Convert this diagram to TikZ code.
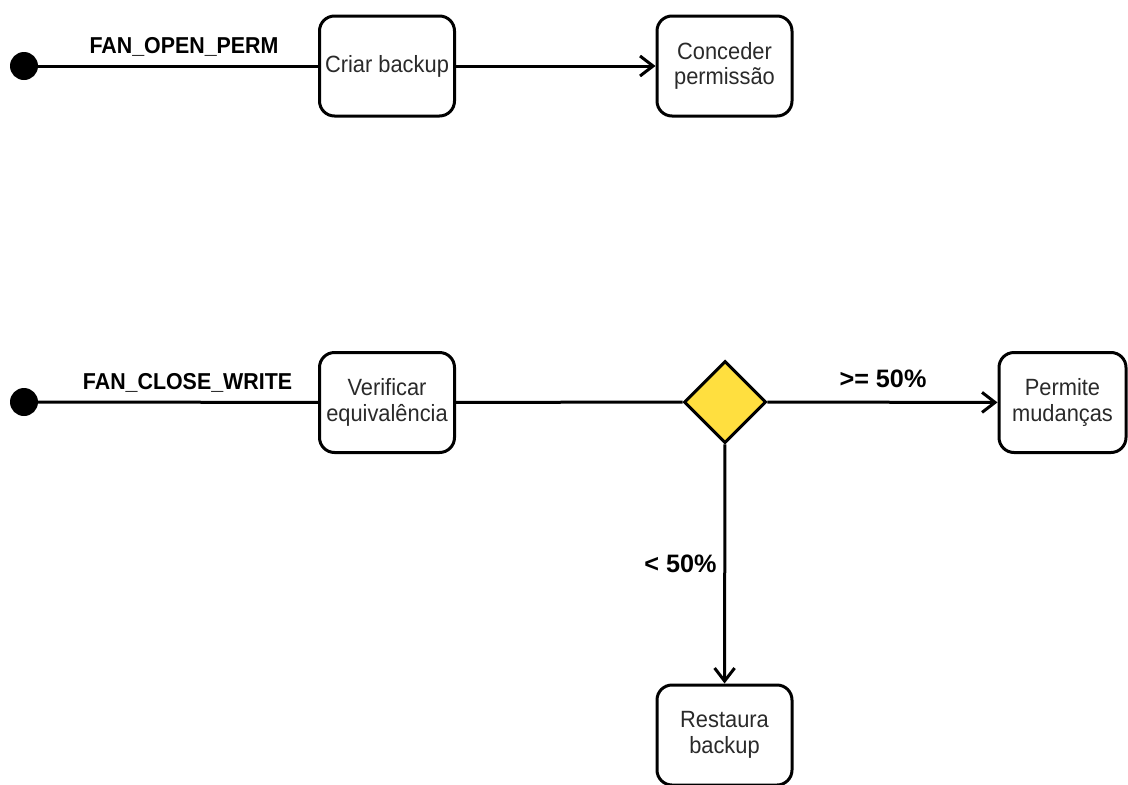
\documentclass[tikz,border=0pt]{standalone}
\usepackage{fontspec}
\setmainfont[FakeStretch=0.93]{Liberation Sans}
\newfontfamily\widesans{Liberation Sans}
\usetikzlibrary{shapes.geometric,arrows.meta}
\definecolor{dyellow}{HTML}{FFDF3F}
\definecolor{btext}{HTML}{2A2A2A}
\tikzset{
  x=1pt, y=-1pt,
  statebox/.style={draw=black, line width=3pt, rounded corners=15pt, minimum width=135pt, minimum height=100pt, align=center, inner sep=2pt, text=btext, font=\fontsize{23.5}{25.5}\selectfont},
  startdot/.style={circle, fill=black, draw=none, minimum size=28pt, inner sep=0pt},
  decision/.style={diamond, aspect=1, draw=black, line width=3pt, fill=dyellow, minimum width=82pt, minimum height=82pt, inner sep=0pt},
  lbl/.style={font=\fontsize{23}{25}\selectfont\bfseries, text=black, inner sep=0pt},
  pctlbl/.style={font=\widesans\fontsize{25.2}{27}\selectfont\bfseries, text=black, inner sep=0pt},
  flow/.style={line width=3pt, -{Straight Barb[length=13pt,width=20pt,line width=3pt]}},
  plain/.style={line width=3pt}
}
\begin{document}
\begin{tikzpicture}
\useasboundingbox (0,0) rectangle (1128,785);
% row 1
\node[startdot] (s1) at (24,66) {};
\node[statebox] (criar) at (387,66) {Criar backup};
\node[statebox] (conceder) at (724.5,66) {Conceder\\permissão};
\draw[plain] (s1) -- (criar);
\draw[flow] (criar) -- (conceder);
\node[lbl] (l1) at (184,47) {FAN\_OPEN\_PERM};
% row 2
\node[startdot] (s2) at (24,402) {};
\node[statebox] (verif) at (387,402.5) {Verificar\\equivalência};
\node[decision] (dec) at (725,402) {};
\node[statebox, minimum width=127pt] (permite) at (1062.5,402.5) {Permite\\mudanças};
\node[statebox] (restaura) at (724.5,735) {Restaura\\backup};
\draw[plain] (s2) -- (verif);
\draw[plain] (verif) -- (dec);
\draw[flow] (dec) -- (permite);
\draw[flow] (dec) -- (restaura);
\node[lbl] (l2) at (187.5,383) {FAN\_CLOSE\_WRITE};
\node[pctlbl] (l3) at (883,379) {>= 50\%};
\node[pctlbl] (l4) at (680.5,564) {< 50\%};
\end{tikzpicture}
\end{document}
